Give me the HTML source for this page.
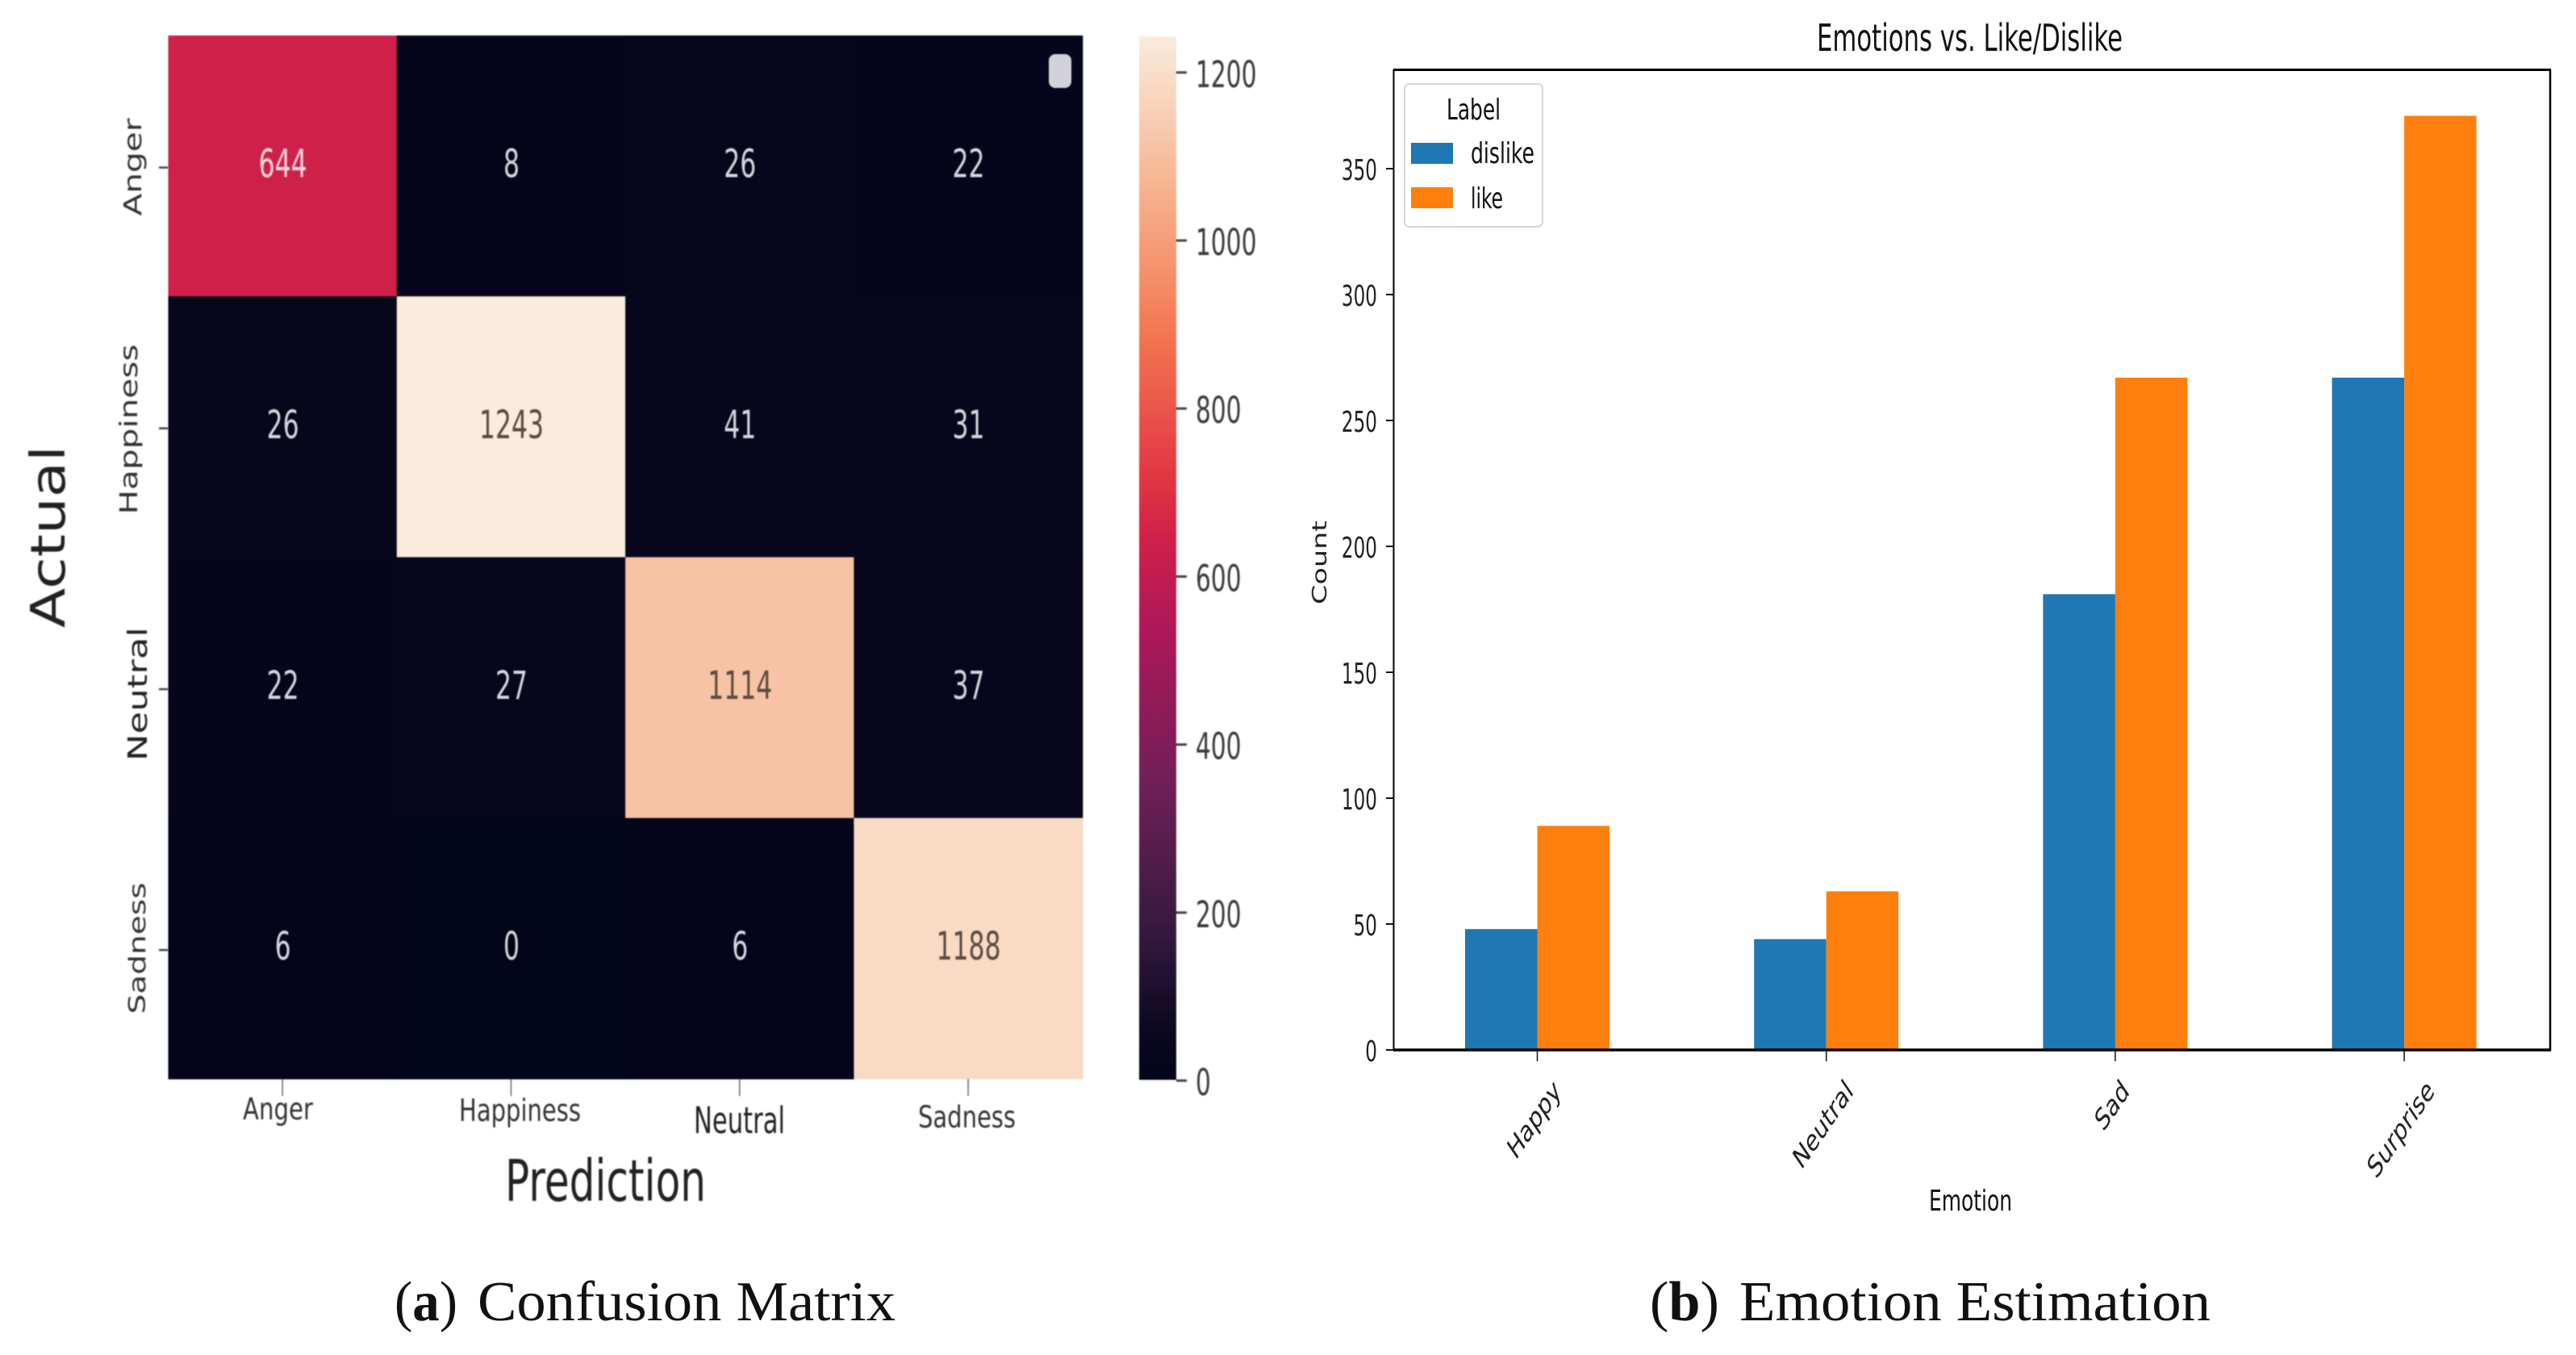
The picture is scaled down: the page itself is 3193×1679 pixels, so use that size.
<!DOCTYPE html>
<html lang="en">
<head>
<meta charset="utf-8">
<title>Confusion Matrix and Emotion Estimation</title>
<style>
  html, body { margin: 0; padding: 0; background: #fff; }
  svg { display: block; }
  text { font-family: "DejaVu Sans", "Liberation Sans", sans-serif; }
  .serif { font-family: "Liberation Serif", serif; fill: #111; }
  #left-panel { filter: blur(0.7px); }
  #right-panel { filter: blur(0.35px); }
</style>
</head>
<body>
<svg id="figure" xmlns="http://www.w3.org/2000/svg" width="3193" height="1679" viewBox="0 0 3193 1679">
  <rect x="0" y="0" width="3193" height="1679" fill="#ffffff"/>
  <defs>
    <linearGradient id="rocket-gradient" x1="0" y1="1" x2="0" y2="0"></linearGradient>
  </defs>

  <g id="left-panel">
    <g id="heatmap-cells"></g>
    <g id="heatmap-values"></g>
    <g id="heatmap-ticks"></g>
    <rect x="1300" y="67" width="28" height="42" rx="8" fill="#d2d2d8"/>

    <text transform="translate(175,207) scale(0.74,1) rotate(-90)" text-anchor="middle" font-size="41" textLength="121" lengthAdjust="spacingAndGlyphs" fill="#333">Anger</text>
    <text transform="translate(170,532) scale(0.74,1) rotate(-90)" text-anchor="middle" font-size="41" textLength="211" lengthAdjust="spacingAndGlyphs" fill="#333">Happiness</text>
    <text transform="translate(182,860) scale(0.74,1) rotate(-90)" text-anchor="middle" font-size="45" textLength="166" lengthAdjust="spacingAndGlyphs" fill="#222">Neutral</text>
    <text transform="translate(180,1175) scale(0.74,1) rotate(-90)" text-anchor="middle" font-size="39" textLength="163" lengthAdjust="spacingAndGlyphs" fill="#333">Sadness</text>
    <text transform="translate(80,665) scale(0.82,1) rotate(-90)" text-anchor="middle" font-size="72" textLength="226" lengthAdjust="spacingAndGlyphs" fill="#222">Actual</text>

    <text x="301" y="1387" font-size="37" textLength="87" lengthAdjust="spacingAndGlyphs" fill="#333">Anger</text>
    <text x="569" y="1389" font-size="38" textLength="151" lengthAdjust="spacingAndGlyphs" fill="#333">Happiness</text>
    <text x="860" y="1404" font-size="45" textLength="113" lengthAdjust="spacingAndGlyphs" fill="#222">Neutral</text>
    <text x="1138" y="1397" font-size="37" textLength="121" lengthAdjust="spacingAndGlyphs" fill="#333">Sadness</text>
    <text x="626" y="1488" font-size="71" textLength="249" lengthAdjust="spacingAndGlyphs" fill="#222">Prediction</text>

    <rect x="1412" y="45" width="46" height="1293" fill="url(#rocket-gradient)"/>
    <g id="colorbar-ticks"></g>
  </g>

  <g id="right-panel">
    <text x="2252" y="63" font-size="46" textLength="379" lengthAdjust="spacingAndGlyphs" fill="#111">Emotions vs. Like/Dislike</text>
    <g id="bars"></g>
    <g id="bar-axis-ticks"></g>
    <line x1="1727" y1="86.5" x2="3162" y2="86.5" stroke="#000" stroke-width="3"/>
    <line x1="1727.5" y1="86" x2="1727.5" y2="1302" stroke="#000" stroke-width="2"/>
    <line x1="3161" y1="86" x2="3161" y2="1302" stroke="#000" stroke-width="2.5"/>
    <line x1="1727" y1="1301" x2="3162" y2="1301" stroke="#000" stroke-width="3.5"/>

    <text transform="translate(1644,697) scale(0.7,1) rotate(-90)" text-anchor="middle" font-size="35" textLength="104" lengthAdjust="spacingAndGlyphs" fill="#222">Count</text>
    <text x="2391" y="1500" font-size="36" textLength="103" lengthAdjust="spacingAndGlyphs" fill="#111">Emotion</text>

    <g>
      <rect x="1741" y="104" width="171" height="177" rx="6" fill="#fff" stroke="#d6d6d6" stroke-width="2"/>
      <text x="1793" y="148" font-size="36" textLength="67" lengthAdjust="spacingAndGlyphs" fill="#111">Label</text>
      <rect x="1749" y="177" width="52" height="26" fill="#1f77b4"/>
      <text x="1823" y="202" font-size="36" textLength="79" lengthAdjust="spacingAndGlyphs" fill="#111">dislike</text>
      <rect x="1749" y="232" width="52" height="26" fill="#ff7f0e"/>
      <text x="1823" y="258" font-size="36" textLength="40" lengthAdjust="spacingAndGlyphs" fill="#111">like</text>
    </g>
  </g>

  <g>
    <text class="serif" x="489" y="1636" font-size="70" textLength="78" lengthAdjust="spacingAndGlyphs">(<tspan font-weight="bold">a</tspan>)</text>
    <text class="serif" x="592" y="1636" font-size="70" textLength="518" lengthAdjust="spacingAndGlyphs">Confusion Matrix</text>
  </g>
  <g>
    <text class="serif" x="2045" y="1636" font-size="70" textLength="86" lengthAdjust="spacingAndGlyphs">(<tspan font-weight="bold">b</tspan>)</text>
    <text class="serif" x="2156" y="1636" font-size="70" textLength="584" lengthAdjust="spacingAndGlyphs">Emotion Estimation</text>
  </g>
</svg>

<script>
const matrixRowLabels = ['Anger', 'Happiness', 'Neutral', 'Sadness'];
const matrixColLabels = ['Anger', 'Happiness', 'Neutral', 'Sadness'];
const matrixRowAnger = [644, 8, 26, 22];
const matrixRowHappiness = [26, 1243, 41, 31];
const matrixRowNeutral = [22, 27, 1114, 37];
const matrixRowSadness = [6, 0, 6, 1188];
const matrixValues = [matrixRowAnger, matrixRowHappiness, matrixRowNeutral, matrixRowSadness];
const colorbarTickValues = [0, 200, 400, 600, 800, 1000, 1200];

const emotionCategories = ['Happy', 'Neutral', 'Sad', 'Surprise'];
const dislikeCounts = [48, 44, 181, 267];
const likeCounts = [89, 63, 267, 371];
const countTicks = [0, 50, 100, 150, 200, 250, 300, 350];

const SVG_NS = 'http://www.w3.org/2000/svg';
function make(tag, parentId) {
  const node = document.createElementNS(SVG_NS, tag);
  document.getElementById(parentId).appendChild(node);
  return node;
}
function set(node, props) {
  Object.keys(props).forEach(function (k) { node.setAttribute(k, props[k]); });
}

/* rocket colour map, tuned at the low end and mid-range to the picture */
function rocket(t) {
  const pos = [0, 0.045, 1 / 7, 2 / 7, 3 / 7, 0.518, 4 / 7, 5 / 7, 6 / 7, 1];
  const rgb = [[3, 5, 26], [9, 7, 30], [53, 25, 62], [112, 31, 87], [173, 23, 89], [207, 32, 74], [225, 51, 66], [243, 118, 81], [246, 180, 143], [250, 235, 221]];
  const v = Math.max(0, Math.min(1, t));
  let i = 0;
  while (i < pos.length - 2 && v > pos[i + 1]) { i++; }
  const f = (v - pos[i]) / (pos[i + 1] - pos[i]);
  const c = [0, 1, 2].map(function (k) { return Math.round(rgb[i][k] + (rgb[i + 1][k] - rgb[i][k]) * f); });
  return 'rgb(' + c.join(',') + ')';
}

/* heatmap scales */
const matrixMax = Math.max.apply(null, matrixValues.map(function (r) { return Math.max.apply(null, r); }));
const heatLeft = 208.5, heatTop = 44, cellW = 283.3, cellH = 323.2;
const colX = function (c) { return heatLeft + c * cellW; };
const rowY = function (r) { return heatTop + r * cellH; };

matrixValues.forEach(function (row, r) {
  row.forEach(function (value, c) {
    const cell = make('rect', 'heatmap-cells');
    
    
    set(cell, { x: colX(c), y: rowY(r), width: cellW + 0.6, height: cellH + 0.6, fill: rocket(value / matrixMax) });

    const label = make('text', 'heatmap-values');
    
    
    const str = String(value);
    const w = str.length * 20;
    const t = value / matrixMax;
    set(label, {
      x: colX(c) + cellW / 2 + 0.5 - w / 2,
      y: rowY(r) + cellH / 2 + 14,
      'font-size': 48,
      textLength: w,
      lengthAdjust: 'spacingAndGlyphs',
      fill: t > 0.6 ? '#5a4a3e' : (t > 0.3 ? '#ffdbe2' : '#d6d6de')
    });
    label.textContent = str;
  });
});

/* heatmap axis ticks */
matrixRowLabels.forEach(function (name, r) {
  const tick = make('line', 'heatmap-ticks');
  
  
  set(tick, { x1: 197, x2: 208, y1: rowY(r) + cellH / 2 + 2, y2: rowY(r) + cellH / 2 + 2, stroke: '#444', 'stroke-width': 2.5 });
});
matrixColLabels.forEach(function (name, c) {
  const tick = make('line', 'heatmap-ticks');
  
  
  set(tick, { x1: colX(c) + cellW / 2, x2: colX(c) + cellW / 2, y1: 1337, y2: 1358, stroke: '#666', 'stroke-width': 1.5 });
});

/* colorbar */
for (let s = 0; s <= 48; s++) {
  const stop = document.createElementNS(SVG_NS, 'stop');
  document.getElementById('rocket-gradient').appendChild(stop);
  stop.setAttribute('offset', String(s / 48));
  stop.setAttribute('stop-color', rocket(s / 48));
}
const colorbarY = function (v) { return 1339 - v * 1.041; };
colorbarTickValues.forEach(function (v) {
  const tick = make('line', 'colorbar-ticks');
  
  
  set(tick, { x1: 1458, x2: 1471, y1: colorbarY(v), y2: colorbarY(v), stroke: '#444', 'stroke-width': 3 });

  const label = make('text', 'colorbar-ticks');
  
  
  const str = String(v);
  set(label, { x: 1482, y: colorbarY(v) + 18, 'font-size': 45, textLength: str.length * 18.9, lengthAdjust: 'spacingAndGlyphs', fill: '#3a3a3a' });
  label.textContent = str;
});

/* bar chart scales */
const barBase = 1301, barPerUnit = 3.12, barW = 89.5;
const barY = function (v) { return barBase - v * barPerUnit; };
const barX = function (i) { return 1905.5 + i * 358.2; };

emotionCategories.forEach(function (cat, i) {
  const dislikeBar = make('rect', 'bars');
  
  
  set(dislikeBar, { x: barX(i) - barW, y: barY(dislikeCounts[i]), width: barW, height: barBase - barY(dislikeCounts[i]), fill: '#1f77b4' });

  const likeBar = make('rect', 'bars');
  
  
  set(likeBar, { x: barX(i), y: barY(likeCounts[i]), width: barW, height: barBase - barY(likeCounts[i]), fill: '#ff7f0e' });

  const tick = make('line', 'bar-axis-ticks');
  
  
  set(tick, { x1: barX(i), x2: barX(i), y1: barBase, y2: 1315, stroke: '#111', 'stroke-width': 1.5 });

  const label = make('text', 'bar-axis-ticks');
  
  
  set(label, { 'font-size': 37, 'text-anchor': 'middle', fill: '#222', x: 0, y: 0 });
  label.textContent = cat;
  const natural = label.getComputedTextLength();
  const centerY = 1336 + natural * 0.3536 + 6;
  label.setAttribute('transform', 'translate(' + (barX(i) + 2) + ',' + (centerY + 12) + ') scale(0.68,1) rotate(-45)');
});

countTicks.forEach(function (v) {
  const tick = make('line', 'bar-axis-ticks');
  
  
  set(tick, { x1: 1718, x2: 1727, y1: barY(v), y2: barY(v), stroke: '#111', 'stroke-width': 2 });

  const label = make('text', 'bar-axis-ticks');
  
  
  const str = String(v);
  const w = str.length * 14.7;
  set(label, { x: 1707 - w, y: barY(v) + 14, 'font-size': 36, textLength: w, lengthAdjust: 'spacingAndGlyphs', fill: '#222' });
  label.textContent = str;
});
</script>
</body>
</html>
